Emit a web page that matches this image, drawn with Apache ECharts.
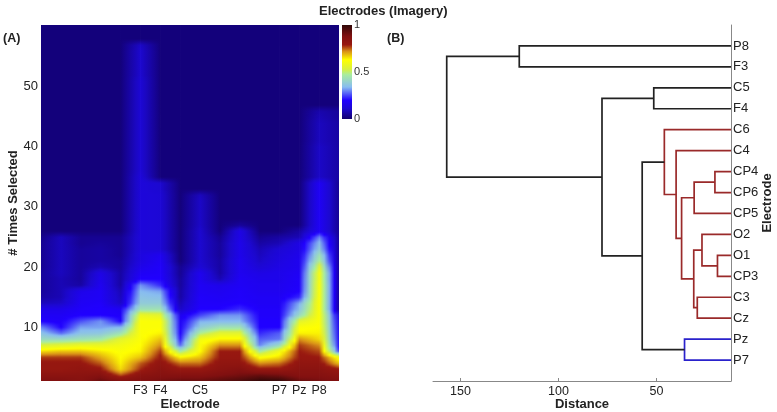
<!DOCTYPE html>
<html>
<head>
<meta charset="utf-8">
<title>Electrodes (Imagery)</title>
<script src="https://cdn.jsdelivr.net/npm/echarts@6/dist/echarts.min.js"></script>
<style>
  html, body { margin: 0; padding: 0; background: #fff; }
  #chart { width: 777px; height: 412px; }
</style>
</head>
<body>
<div id="chart"></div>
<script>
  var fontName = '"Liberation Sans", Arial, sans-serif'

  // (A) one list per electrode position, value at 1, 2, 3 ... times selected.
  // past the end of a list the picture is just background level
  var backgroundLevel = 0.015
  var col00 = [.88, .84, .8, .8, .77, .66, .54, .42, .36, .3, .2, .18, .16, .09, .06, .05, .05, .05, .05, .04, .04, .04, .04, .04, .03]
  var col01 = [.88, .84, .8, .8, .77, .68, .56, .42, .28, .2, .19, .18, .16, .1, .08, .08, .08, .08, .09, .09, .09, .09, .09, .09, .09]
  var col02 = [.86, .84, .82, .8, .77, .68, .58, .44, .36, .32, .26, .2, .19, .18, .17, .16, .06, .05, .05, .05, .05, .05, .05, .04, .04]
  var col03 = [.92, .86, .8, .75, .7, .65, .58, .46, .37, .32, .31, .2, .2, .19, .18, .18, .17, .16, .15, .08, .06, .06, .06, .05, .04]
  var col04 = [.88, .76, .66, .64, .63, .62, .6, .56, .44, .34, .2, .19, .18, .1, .09, .08, .06, .06, .06, .05, .05, .04, .04, .04, .04]
  var col05 = [.88, .84, .78, .75, .68, .64, .63, .62, .62, .62, .62, .58, .44, .38, .36, .34, .31, .2, .18, .16, .14, .14, .13, .13, .13, .13, .13, .13, .13, .13, .13, .13, .13, .13, .13, .12, .12, .12, .12, .12, .12, .12, .12, .12, .12, .12, .12, .12, .12, .12, .12, .11, .11, .11, .11, .11, .1]
  var col06 = [.9, .86, .84, .82, .8, .77, .72, .68, .64, .62, .62, .56, .44, .38, .35, .32, .23, .2, .19, .19, .18, .17, .12, .12, .12, .12, .12, .12, .12, .12, .12, .12, .11, .11]
  var col07 = [.92, .86, .8, .74, .64, .46, .28, .22, .2, .19, .18, .17, .1, .08, .06, .06, .05, .05, .04, .04]
  var col08 = [.92, .86, .8, .74, .68, .63, .62, .6, .48, .38, .33, .25, .2, .19, .19, .18, .18, .17, .17, .12, .11, .11, .11, .11, .11, .11, .1, .1, .1, .1, .1, .09]
  var col09 = [.94, .88, .84, .82, .8, .79, .72, .64, .56, .44, .34, .31, .2, .19, .18, .17, .16, .08, .06, .06, .06, .05, .05, .05, .04]
  var col10 = [.96, .9, .86, .82, .8, .79, .72, .64, .56, .44, .34, .31, .23, .2, .19, .19, .18, .18, .17, .17, .17, .16, .16, .16, .15, .15, .05]
  var col11 = [1, .92, .8, .72, .62, .46, .3, .27, .23, .2, .2, .19, .19, .18, .18, .17, .17, .16, .15, .12, .1, .09, .08, .06, .04]
  var col12 = [1, .9, .8, .74, .66, .6, .42, .29, .27, .2, .2, .19, .19, .18, .18, .17, .17, .16, .16, .15, .14, .13, .12, .08, .06]
  var col13 = [.92, .86, .84, .82, .8, .79, .77, .72, .64, .62, .56, .42, .36, .33, .23, .2, .19, .19, .18, .17, .17, .16, .15, .15, .08, .06]
  var col14 = [.9, .86, .84, .82, .79, .76, .72, .66, .64, .63, .62, .62, .62, .62, .62, .62, .62, .61, .61, .56, .48, .44, .38, .35, .3, .18, .18, .18, .18, .18, .18, .18, .18, .18, .1, .1, .1, .1, .1, .1, .09, .09, .09, .09, .08, .07]
  var col15 = [.88, .84, .8, .68, .6, .24, .18, .17, .16, .15, .14, .12, .04, .04, .04, .04, .04, .04, .04, .04, .04, .04, .04, .04, .04, .04, .04, .04, .04, .04, .04, .04, .04, .04, .06, .06, .06, .06, .06, .06, .06, .06, .06, .06, .05, .05]
  var heatColumns = [col00, col01, col02, col03, col04, col05, col06, col07, col08, col09, col10, col11, col12, col13, col14, col15]
  var heatTickValues = [5, 6, 8, 12, 13, 14]
  var heatTickNames = ['F3', 'F4', 'C5', 'P7', 'Pz', 'P8']
  var countTicks = [10, 20, 30, 40, 50]

  // colour scale
  var scaleValues = [0, .11, .2, .34, .47, .53, .63, .72, .79, .88, 1]
  var scaleColors = ['#12006e', '#1c08d0', '#2000ff', '#88bcf0', '#a8eca0', '#d8f040', '#ffff00', '#d89018', '#981810', '#801010', '#300808']

  // (B) dendrogram, leaves from bottom to top
  var leafNames = ['P7', 'Pz', 'Cz', 'C3', 'CP3', 'O1', 'O2', 'CP5', 'CP6', 'CP4', 'C4', 'C6', 'F4', 'C5', 'F3', 'P8']
  // a child is a leaf name, or the index of an earlier merge
  var mergeChildA = ['CP4', 'O1', 0, 'O2', 'C3', 3, 2, 'C4', 'C6', 'Pz', 8, 'C5', 11, 'P8', 13]
  var mergeChildB = ['CP6', 'CP3', 'CP5', 1, 'Cz', 4, 5, 6, 7, 'P7', 9, 'F4', 10, 'F3', 12]
  var mergeDistance = [20.2, 18.9, 30.8, 26.8, 29.2, 31, 37.2, 40, 46, 35.7, 57.3, 51.4, 77.8, 120, 157]
  var mergeColor = ['#9a2a2a', '#9a2a2a', '#9a2a2a', '#9a2a2a', '#9a2a2a', '#9a2a2a', '#9a2a2a', '#9a2a2a', '#9a2a2a', '#2a22cc', '#222222', '#222222', '#222222', '#222222', '#222222']
  var distanceTicks = [50, 100, 150]
  var distanceMin = 12
  var distanceMax = 164

  function levelColor (v) {
    var k = 0
    while (k < scaleValues.length - 2 && v > scaleValues[k + 1]) k++
    var t = (v - scaleValues[k]) / (scaleValues[k + 1] - scaleValues[k])
    return echarts.color.lerp(Math.min(1, Math.max(0, t)), [scaleColors[k], scaleColors[k + 1]])
  }

  function level (col, row) {
    var list = heatColumns[col]
    return row <= list.length ? list[row - 1] : backgroundLevel
  }

  // matlab style interpolated shading, every cell is cut in thin strips
  function renderHeatCell (params, api) {
    var col = api.value(0)
    var row = api.value(1)
    var stripCount = 6
    var children = []
    for (var s = 0; s < stripCount; s++) {
      var f = (s + 0.5) / stripCount
      var left = level(col, row) * (1 - f) + level(col, row + 1) * f
      var right = level(col + 1, row) * (1 - f) + level(col + 1, row + 1) * f
      var p0 = api.coord([col, row + s / stripCount])
      var p1 = api.coord([col + 1, row + (s + 1) / stripCount])
      var stops = []
      for (var g = 0; g <= 4; g++) {
        stops.push({offset: g / 4, color: levelColor(left + (right - left) * g / 4)})
      }
      children.push({
        type: 'rect',
        shape: {x: p0[0], y: p1[1] - 0.4, width: p1[0] - p0[0] + 0.5, height: p0[1] - p1[1] + 0.8},
        style: {fill: {type: 'linear', x: 0, y: 0, x2: 1, y2: 0, colorStops: stops}}
      })
    }
    return {type: 'group', children: children}
  }

  var heatCells = []
  for (var c = 0; c < heatColumns.length - 1; c++) {
    for (var r = 1; r <= 60; r++) heatCells.push([c, r])
  }

  function nodePos (child, merged) {
    if (typeof child === 'number') return merged[child]
    return {y: leafNames.indexOf(child) + 1, d: distanceMin}
  }

  var dendroLinks = []
  var merged = []
  for (var m = 0; m < mergeDistance.length; m++) {
    var a = nodePos(mergeChildA[m], merged)
    var b = nodePos(mergeChildB[m], merged)
    merged.push({y: (a.y + b.y) / 2, d: mergeDistance[m]})
    dendroLinks.push({value: [mergeDistance[m], a.y, b.y, a.d, b.d], itemStyle: {color: mergeColor[m]}})
  }

  function renderLink (params, api) {
    var d = api.value(0)
    var points = [
      api.coord([api.value(3), api.value(1)]),
      api.coord([d, api.value(1)]),
      api.coord([d, api.value(2)]),
      api.coord([api.value(4), api.value(2)])
    ]
    return {
      type: 'polyline',
      shape: {points: points},
      style: {fill: 'none', stroke: api.visual('color'), lineWidth: 1.7}
    }
  }

  var barStops = []
  for (var i = 0; i < scaleValues.length; i++) {
    barStops.push({offset: 1 - scaleValues[i], color: scaleColors[i]})
  }
  barStops.reverse()

  var labelStyle = {fontFamily: fontName, fontSize: 13, color: '#222'}
  var nameStyle = {fontFamily: fontName, fontSize: 13, fontWeight: 'bold', color: '#222'}

  var option = {
    animation: false,
    textStyle: {fontFamily: fontName},
    title: {
      text: 'Electrodes (Imagery)', left: 314, top: 0,
      textStyle: {fontFamily: fontName, fontSize: 13, fontWeight: 'bold', color: '#222'}
    },
    graphic: [
      {type: 'text', left: 3, top: 32, style: {text: '(A)', font: 'bold 12.5px ' + fontName, fill: '#222'}},
      {type: 'text', left: 387, top: 32, style: {text: '(B)', font: 'bold 12.5px ' + fontName, fill: '#222'}}
    ],
    grid: [
      {left: 41, top: 25, width: 298, height: 356, outerBoundsMode: 'none'},
      {left: 342, top: 25, width: 10, height: 94, outerBoundsMode: 'none'},
      {left: 433, top: 25, width: 298, height: 356, outerBoundsMode: 'none'}
    ],
    xAxis: [
      {
        gridIndex: 0, type: 'value', min: 0, max: 15,
        name: 'Electrode', nameLocation: 'middle', nameGap: 17, nameMoveOverlap: false, nameTextStyle: nameStyle,
        splitLine: {show: false}, axisLine: {show: false}, axisTick: {show: false},
        axisLabel: Object.assign({}, labelStyle, {
          customValues: heatTickValues, margin: 3, fontSize: 12.5,
          formatter: function (v) { return heatTickNames[heatTickValues.indexOf(v)] }
        })
      },
      {gridIndex: 1, type: 'category', data: [''], show: false},
      {
        gridIndex: 2, type: 'value', inverse: true, min: distanceMin, max: distanceMax,
        name: 'Distance', nameLocation: 'middle', nameGap: 17, nameMoveOverlap: false, nameTextStyle: nameStyle,
        splitLine: {show: false},
        axisLine: {onZero: false, lineStyle: {color: '#888', width: 1}},
        axisTick: {inside: true, length: 3, customValues: distanceTicks, lineStyle: {color: '#888'}},
        axisLabel: Object.assign({}, labelStyle, {customValues: distanceTicks, margin: 4, fontSize: 12.5})
      }
    ],
    yAxis: [
      {
        gridIndex: 0, type: 'value', min: 1, max: 60.3,
        name: '# Times Selected', nameLocation: 'middle', nameGap: 21, nameMoveOverlap: false, nameRotate: 90, nameTextStyle: nameStyle,
        splitLine: {show: false}, axisLine: {show: false}, axisTick: {show: false},
        axisLabel: Object.assign({}, labelStyle, {customValues: countTicks, margin: 3})
      },
      {
        gridIndex: 1, type: 'value', min: 0, max: 1, interval: 0.5, position: 'right',
        splitLine: {show: false}, axisLine: {show: false}, axisTick: {show: false},
        axisLabel: Object.assign({}, labelStyle, {margin: 2, fontSize: 11, color: '#333'})
      },
      {
        gridIndex: 2, type: 'value', min: 0, max: 17, interval: 1, position: 'right',
        name: 'Electrode', nameLocation: 'middle', nameGap: 30, nameMoveOverlap: false, nameRotate: 90, nameTextStyle: nameStyle,
        splitLine: {show: false},
        axisLine: {onZero: false, lineStyle: {color: '#888', width: 1}},
        axisTick: {show: false},
        axisLabel: Object.assign({}, labelStyle, {
          margin: 2,
          formatter: function (v) { return leafNames[v - 1] || '' }
        })
      }
    ],
    series: [
      {
        name: 'Times selected', type: 'custom', xAxisIndex: 0, yAxisIndex: 0,
        renderItem: renderHeatCell, data: heatCells, clip: true, encode: {x: 0, y: 1}
      },
      {
        name: 'Colour bar', type: 'bar', xAxisIndex: 1, yAxisIndex: 1, barWidth: '100%', data: [1],
        itemStyle: {color: {type: 'linear', x: 0, y: 0, x2: 0, y2: 1, colorStops: barStops}}
      },
      {
        name: 'Dendrogram', type: 'custom', xAxisIndex: 2, yAxisIndex: 2,
        renderItem: renderLink, data: dendroLinks, encode: {x: 0, y: [1, 2]}
      }
    ]
  }

  var chart = echarts.init(document.getElementById('chart'), null, {renderer: 'canvas'})
  chart.setOption(option)
</script>
</body>
</html>
